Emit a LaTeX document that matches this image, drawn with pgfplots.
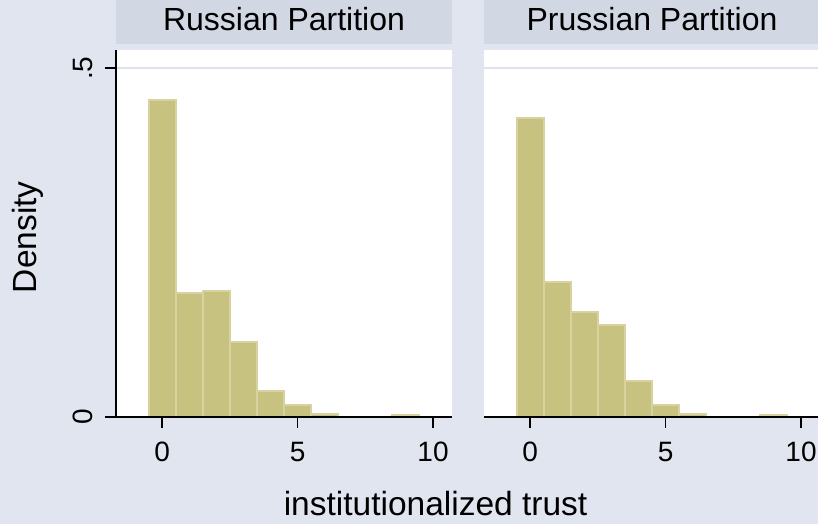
\documentclass[border=0pt]{standalone}
\usepackage{fontspec}
\setmainfont{Liberation Sans}
\usepackage{pgfplots}
\pgfplotsset{compat=1.18}

\definecolor{bg}{RGB}{224,229,239}
\definecolor{strip}{RGB}{209,215,227}
\definecolor{gridc}{RGB}{222,226,240}
\definecolor{khaki}{RGB}{200,194,128}
\definecolor{khakiedge}{RGB}{215,210,160}

\pgfplotsset{
  panel/.style={
    scale only axis, width=336pt, height=367pt,
    xmin=-1.7, xmax=10.7, ymin=0, ymax=0.526,
    axis x line*=bottom, axis y line*=left,
    axis on top,
    axis background/.style={fill=white},
    axis line style={line width=1.6pt, black},
    tick style={line width=1.6pt, black},
    tick align=outside, major tick length=11pt,
    xtick={0,5,10},
    /pgf/number format/assume math mode=true,
    ticklabel style={font=\fontsize{28}{33}\selectfont, inner sep=0pt},
    xticklabel shift=14pt,
    ymajorgrids, grid style={gridc, line width=1.8pt},
    ybar, bar width=1, bar shift=0pt,
    title style={at={(0.5,1)}, anchor=south, fill=strip,
      minimum width=336pt, minimum height=44pt, inner sep=0pt,
      text height=22pt, text depth=4pt, yshift=0pt,
      font=\fontsize{32}{38}\selectfont},
  },
  bars/.style={fill=khaki, draw=khakiedge, line width=2pt},
}

\begin{document}
\begin{tikzpicture}
\path[use as bounding box, fill=bg] (0,0) rectangle (818pt,524pt);
\clip (0,0) rectangle (818pt,524pt);

% Russian Partition
\begin{axis}[panel,
    at={(116pt,107pt)}, anchor=south west,
    title={Russian Partition},
    ytick={0,0.5}, yticklabels={0,.5},
    yticklabel style={rotate=90, anchor=south},
    yticklabel shift=12pt,
    ylabel={Density},
    ylabel style={at={(axis description cs:-0.261,0.49)}, anchor=center,
      font=\fontsize{33.5}{40}\selectfont},
    xlabel={institutionalized trust},
    xlabel style={at={(axis description cs:0.951,-0.236)}, anchor=center,
      font=\fontsize{33.5}{40}\selectfont},
]
\addplot[bars] coordinates {
  (0,0.454) (1,0.178) (2,0.180) (3,0.108) (4,0.037)
  (5,0.017) (6,0.0050) (9,0.0028)
};
\end{axis}

% Prussian Partition
\begin{axis}[panel,
    at={(484pt,107pt)}, anchor=south west,
    title={Prussian Partition},
    ytick={0.5}, yticklabels={},
    ytick style={draw=none},
    y axis line style={draw=none},
]
\addplot[bars] coordinates {
  (0,0.428) (1,0.194) (2,0.150) (3,0.132) (4,0.052)
  (5,0.017) (6,0.0042) (9,0.0022)
};
\end{axis}
\end{tikzpicture}
\end{document}
